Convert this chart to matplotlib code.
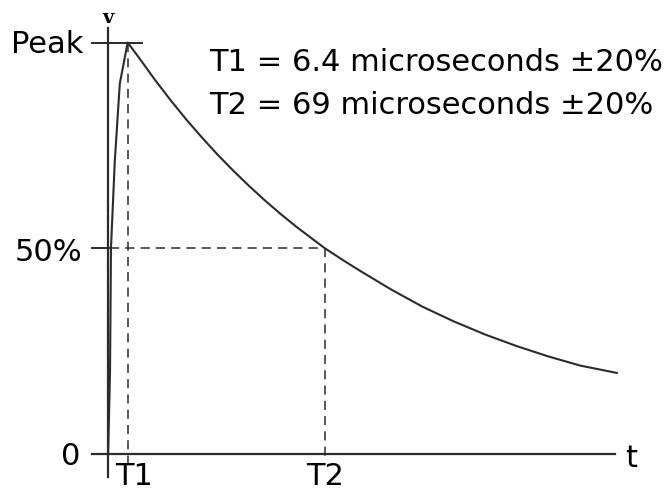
import matplotlib
matplotlib.use("Agg")
from matplotlib import pyplot as plt

# waveform: time in microseconds, voltage in % of peak
time_us = [0.2, 0.8, 1.1, 2.3, 3.9, 6.4, 10, 15, 20, 25, 30, 35, 40, 45, 50,
           55, 60, 65, 69, 75, 80, 90, 100, 110, 120, 130, 140, 150, 161.7]
volt_pct = [0, 20, 50, 71, 90, 100, 96.3, 91.0, 86.0, 81.3, 76.9, 72.7, 68.8,
            65.1, 61.6, 58.3, 55.2, 52.3, 50, 47.0, 44.6, 40.0, 35.8, 32.2,
            29.0, 26.2, 23.7, 21.5, 19.7]

T1 = 6.4
T2 = 69.0
half = 50
peak = 100
notes = ["T1 = 6.4 microseconds ±20%", "T2 = 69 microseconds ±20%"]

ink = "#2b2b2b"
fs = 22

fig = plt.figure(figsize=(6.68, 4.91), dpi=100)
ax = fig.add_axes([0, 0, 1, 1])
ax.set_xlim(-34.13, 177.94)
ax.set_ylim(-8.99, 110.33)
ax.axis("off")

# axes
ax.plot([0, 0], [-5.5, 103.5], color=ink, lw=1.6)
ax.plot([-4.9, 161.1], [0, 0], color=ink, lw=1.6)
ax.plot([-4.9, 11], [peak, peak], color=ink, lw=1.4)
ax.plot([-4.9, 0.8], [half, half], color=ink, lw=1.4)

# guide lines
dash = (0, (6, 4))
ax.plot([0.8, T2], [half, half], color=ink, lw=1.1, linestyle=dash)
ax.plot([T1, T1], [peak, -2.5], color=ink, lw=1.1, linestyle=dash)
ax.plot([T2, T2], [half, -1.5], color=ink, lw=1.1, linestyle=dash)

# waveform
ax.plot(time_us, volt_pct, color=ink, lw=1.5)

# labels
ax.text(-7.8, 97.4, "Peak", fontsize=fs, ha="right", va="baseline")
ax.text(-8.1, 46.9, "50%", fontsize=fs, ha="right", va="baseline")
ax.text(-8.7, -2.7, "0", fontsize=fs, ha="right", va="baseline")
ax.text(8.3, -7.6, "T1", fontsize=fs, ha="center", va="baseline")
ax.text(T2, -7.6, "T2", fontsize=fs, ha="center", va="baseline")
ax.text(166.2, -3.2, "t", fontsize=fs, ha="center", va="baseline")
ax.text(0, 104.7, "v", fontsize=14, ha="center", va="baseline",
        family="serif", fontweight="bold")
ax.text(32.2, 93.1, notes[0], fontsize=fs, ha="left", va="baseline")
ax.text(32.2, 82.6, notes[1], fontsize=fs, ha="left", va="baseline")

fig.savefig("out.png", dpi=100)
